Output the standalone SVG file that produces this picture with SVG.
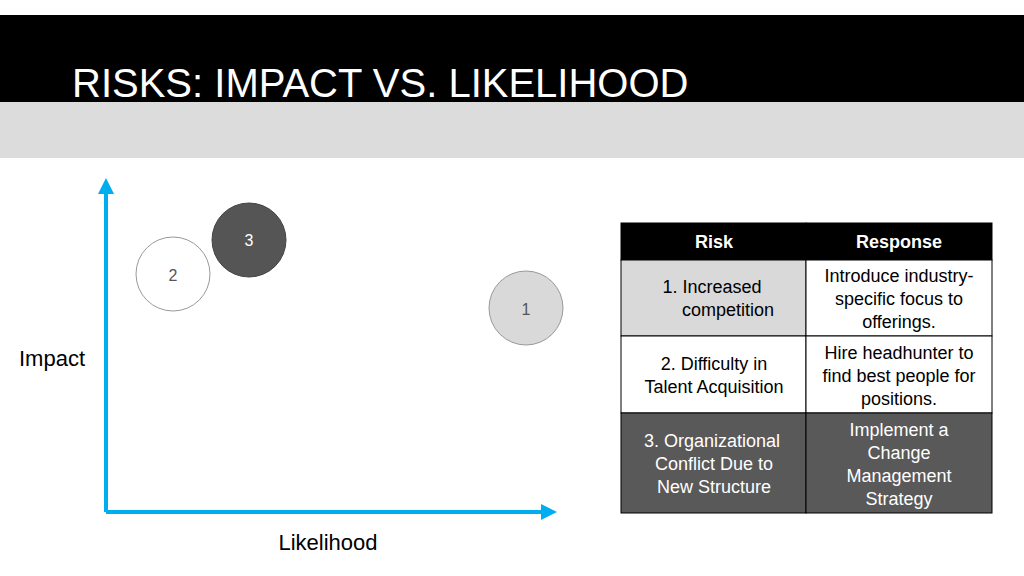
<svg xmlns="http://www.w3.org/2000/svg" width="1024" height="576" viewBox="0 0 1024 576">
<style>
text{font-family:"Liberation Sans",Arial,sans-serif;}
.t{font-size:18px;text-anchor:middle;}
.w{fill:#fff}
.cell{stroke:#000;stroke-width:1}
.ax{stroke:#00aeef;stroke-width:4;fill:none}
</style>
<defs><marker id="ah" markerWidth="4" markerHeight="4" refX="2" refY="2" orient="auto" markerUnits="strokeWidth"><path d="M0,0 L4,2 L0,4 z" fill="#00aeef"/></marker></defs>
<rect width="1024" height="576" fill="#fff"/>
<rect x="0" y="15" width="1024" height="87" fill="#000"/>
<rect x="0" y="102" width="1024" height="56" fill="#dcdcdc"/>
<text x="72" y="97" font-size="40" fill="#fff">RISKS: IMPACT VS. LIKELIHOOD</text>
<g id="connectors">
<path class="ax" d="M106,512 L106,186" marker-end="url(#ah)"/>
<path class="ax" d="M106,512 L549,512" marker-end="url(#ah)"/>
</g>
<text x="52" y="366" font-size="22" text-anchor="middle">Impact</text>
<text x="328" y="550" font-size="22" text-anchor="middle">Likelihood</text>
<g id="n3"><circle cx="249" cy="240" r="37" fill="#555" stroke="#444"/><text x="249" y="246" font-size="16" text-anchor="middle" fill="#fff">3</text></g>
<g id="n2"><circle cx="173" cy="274" r="37" fill="#fff" stroke="#999"/><text x="173" y="281" font-size="16" text-anchor="middle" fill="#555">2</text></g>
<g id="n1"><circle cx="526" cy="308" r="37" fill="#d9d9d9" stroke="#999"/><text x="526" y="315" font-size="16" text-anchor="middle" fill="#555">1</text></g>
<g id="table">
<rect class="cell" x="621" y="223" width="185" height="37" fill="#000"/>
<rect class="cell" x="806" y="223" width="186" height="37" fill="#000"/>
<rect class="cell" x="621" y="260" width="185" height="76" fill="#d9d9d9"/>
<rect class="cell" x="806" y="260" width="186" height="76" fill="#fff"/>
<rect class="cell" x="621" y="336" width="185" height="77" fill="#fff"/>
<rect class="cell" x="806" y="336" width="186" height="77" fill="#fff"/>
<rect class="cell" x="621" y="413" width="185" height="100" fill="#595959"/>
<rect class="cell" x="806" y="413" width="186" height="100" fill="#595959"/>
<text class="t w" x="714" y="248" font-weight="bold">Risk</text>
<text class="t w" x="899" y="248" font-weight="bold">Response</text>
<text class="t" x="712" y="293">1.  Increased</text>
<text class="t" x="728" y="316">competition</text>
<text class="t" x="899" y="282">Introduce industry-</text>
<text class="t" x="899" y="305">specific focus to</text>
<text class="t" x="899" y="328">offerings.</text>
<text class="t" x="714" y="370">2. Difficulty in</text>
<text class="t" x="714" y="393">Talent Acquisition</text>
<text class="t" x="899" y="359">Hire headhunter to</text>
<text class="t" x="899" y="382">find best people for</text>
<text class="t" x="899" y="405">positions.</text>
<text class="t w" x="712" y="447">3. Organizational</text>
<text class="t w" x="714" y="470">Conflict Due to</text>
<text class="t w" x="714" y="493">New Structure</text>
<text class="t w" x="899" y="436">Implement a</text>
<text class="t w" x="899" y="459">Change</text>
<text class="t w" x="899" y="482">Management</text>
<text class="t w" x="899" y="505">Strategy</text>
</g>
</svg>
